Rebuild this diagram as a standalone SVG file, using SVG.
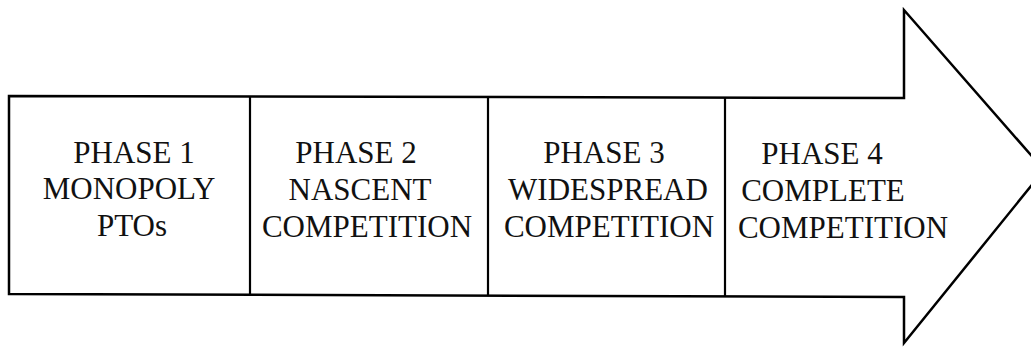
<svg xmlns="http://www.w3.org/2000/svg" width="1031" height="354" viewBox="0 0 1031 354">
<style>
.outline{fill:#fff;stroke:#000;stroke-width:2.5;stroke-linejoin:miter}
.div{stroke:#000;stroke-width:2.2}
.lbl{font-family:"Liberation Serif","Times New Roman",serif;font-size:31px;fill:#111;text-anchor:middle}
</style>
<rect width="1031" height="354" fill="#fff"/>
<g id="arrow">
<path class="outline" d="M9,96 L904,98 L904,10 L1044,170 L904,343 L904,297 L9,294 Z"/>
</g>
<g id="connectors">
<line class="div" x1="250" y1="96" x2="250" y2="295"/>
<line class="div" x1="488" y1="97" x2="488" y2="296"/>
<line class="div" x1="725" y1="97" x2="725" y2="296"/>
</g>
<g id="phase1">
<text class="lbl" x="134" y="163">PHASE 1</text>
<text class="lbl" x="129" y="199">MONOPOLY</text>
<text class="lbl" x="132" y="236">PTOs</text>
</g>
<g id="phase2">
<text class="lbl" x="356" y="163">PHASE 2</text>
<text class="lbl" x="360" y="200">NASCENT</text>
<text class="lbl" x="367" y="237">COMPETITION</text>
</g>
<g id="phase3">
<text class="lbl" x="604" y="163">PHASE 3</text>
<text class="lbl" x="608" y="200">WIDESPREAD</text>
<text class="lbl" x="609" y="237">COMPETITION</text>
</g>
<g id="phase4">
<text class="lbl" x="822" y="164">PHASE 4</text>
<text class="lbl" x="823" y="201">COMPLETE</text>
<text class="lbl" x="843" y="238">COMPETITION</text>
</g>
</svg>
